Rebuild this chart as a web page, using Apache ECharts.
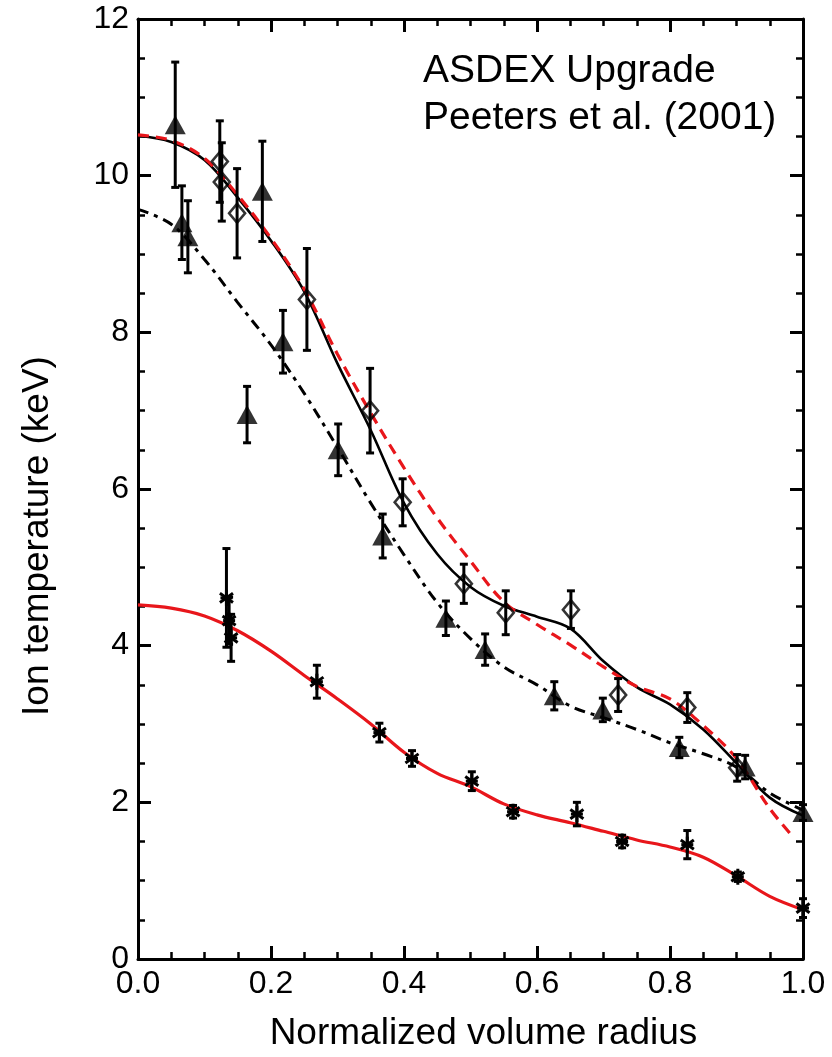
<!DOCTYPE html>
<html>
<head>
<meta charset="utf-8">
<script src="https://cdn.jsdelivr.net/npm/echarts@6/dist/echarts.min.js"></script>
<style>
html,body{margin:0;padding:0;background:#fff;}
#chart{width:832px;height:1057px;}
</style>
</head>
<body>
<div id="chart"></div>
<script>
// ---- Data ----
const xTicks = [0.0, 0.2, 0.4, 0.6, 0.8, 1.0];
const yTicks = [0, 2, 4, 6, 8, 10, 12];

// Fit curves (common radius grid)
const radiusGrid = [0,0.05,0.1,0.15,0.2,0.25,0.3,0.35,0.4,0.45,0.5,0.55,0.6,0.65,0.7,0.75,0.8,0.85,0.9,0.95,1.0];
const fitSolidBlack = [10.51,10.43,10.2,9.72,9.17,8.52,7.6,6.75,5.82,5.17,4.75,4.51,4.37,4.22,3.8,3.47,3.25,2.93,2.5,2.06,1.83];
const fitDashedBlack = [9.57,9.38,8.93,8.38,7.84,7.22,6.53,5.82,5.16,4.55,4.09,3.73,3.5,3.23,3.08,2.93,2.76,2.62,2.45,2.12,1.9];
const fitSolidRed = [4.52,4.48,4.38,4.19,3.93,3.62,3.32,3.0,2.64,2.37,2.2,1.98,1.84,1.74,1.63,1.52,1.43,1.3,1.06,0.8,0.63];
const dashedRedRadius = [0,0.05,0.1,0.15,0.2,0.25,0.3,0.35,0.4,0.45,0.5,0.55,0.6,0.65,0.7,0.75,0.8,0.85,0.9,0.95,0.985];
const fitDashedRed = [10.52,10.45,10.22,9.75,9.2,8.55,7.72,6.97,6.27,5.63,5.08,4.56,4.27,4.01,3.73,3.48,3.32,2.98,2.56,1.92,1.56];

// Measured points: filled triangles
const triX   = [0.056,0.066,0.075,0.164,0.187,0.218,0.301,0.368,0.463,0.522,0.626,0.699,0.814,0.913,1.0];
const triY   = [10.65,9.4,9.22,6.95,9.8,7.88,6.5,5.4,4.35,3.95,3.36,3.18,2.7,2.45,1.87];
const triErr = [0.8,0.47,0.46,0.36,0.64,0.4,0.33,0.28,0.22,0.2,0.18,0.15,0.13,0.15,0.1];

// Measured points: open diamonds
const diaX   = [0.123,0.126,0.149,0.254,0.349,0.398,0.49,0.553,0.651,0.722,0.826,0.901];
const diaY   = [10.18,9.92,9.52,8.42,7.0,5.83,4.79,4.42,4.46,3.37,3.21,2.44];
const diaErr = [0.52,0.5,0.57,0.65,0.54,0.3,0.25,0.28,0.24,0.21,0.19,0.17];

// Measured points: asterisks
const astX   = [0.133,0.137,0.14,0.269,0.363,0.412,0.502,0.564,0.66,0.728,0.826,0.902,1.0];
const astY   = [4.61,4.32,4.1,3.54,2.89,2.56,2.27,1.88,1.85,1.5,1.46,1.05,0.65];
const astErr = [0.63,0.3,0.3,0.21,0.12,0.1,0.12,0.08,0.15,0.08,0.18,0.06,0.12];

const xTitle = 'Normalized volume radius';
const yTitle = 'Ion temperature (keV)';
const noteLines = ['ASDEX Upgrade', 'Peeters et al. (2001)'];

// ---- Build ----
const FONT = '"Liberation Sans", Arial, Helvetica, sans-serif';
const RED = '#e8161b';
const pairs = (xs, ys) => xs.map((x, i) => [x, ys[i]]);
const triples = (xs, ys, es) => xs.map((x, i) => [x, ys[i], es[i]]);

function errorBars(data) {
  return {
    type: 'custom', z: 3, silent: true,
    data: data,
    encode: { x: 0, y: 1 },
    renderItem: function (params, api) {
      const x = api.value(0), y = api.value(1), e = api.value(2);
      const t = api.coord([x, y + e]);
      const b = api.coord([x, y - e]);
      const hw = 4;
      const st = { stroke: '#000', lineWidth: 3 };
      return { type: 'group', children: [
        { type: 'line', shape: { x1: t[0], y1: t[1], x2: b[0], y2: b[1] }, style: st },
        { type: 'line', shape: { x1: t[0] - hw, y1: t[1], x2: t[0] + hw, y2: t[1] }, style: st },
        { type: 'line', shape: { x1: b[0] - hw, y1: b[1], x2: b[0] + hw, y2: b[1] }, style: st }
      ]};
    }
  };
}

function asterisks(data) {
  return {
    type: 'custom', z: 5, silent: true,
    data: data,
    encode: { x: 0, y: 1 },
    renderItem: function (params, api) {
      const c = api.coord([api.value(0), api.value(1)]);
      const r = 8;
      const st = { stroke: '#000', lineWidth: 3 };
      const kids = [];
      [90, 35, 145, 0].forEach(function (a, i) {
        const rad = a * Math.PI / 180;
        const rr = i === 3 ? 6 : r;
        const dx = rr * Math.cos(rad), dy = rr * Math.sin(rad);
        kids.push({ type: 'line', shape: { x1: c[0] - dx, y1: c[1] - dy, x2: c[0] + dx, y2: c[1] + dy }, style: st });
      });
      return { type: 'group', children: kids };
    }
  };
}

const axisCommon = {
  type: 'value',
  axisLine: { show: true, onZero: false, lineStyle: { color: '#000', width: 3 } },
  axisTick: { show: true, inside: true, length: 13, lineStyle: { color: '#000', width: 3 } },
  minorTick: { show: true, splitNumber: 4, length: 7, lineStyle: { color: '#000', width: 2.5 } },
  splitLine: { show: false },
  minorSplitLine: { show: false }
};
const labelStyle = { color: '#000', fontSize: 32, fontFamily: FONT };

const chart = echarts.init(document.getElementById('chart'), null, { renderer: 'canvas' });
chart.setOption({
  animation: false,
  backgroundColor: '#fff',
  grid: { left: 138, right: 29, top: 19, bottom: 91 },
  xAxis: [
    Object.assign({}, axisCommon, {
      position: 'bottom', min: xTicks[0], max: xTicks[xTicks.length - 1], interval: 0.2,
      axisLabel: Object.assign({ margin: 9, formatter: v => v.toFixed(1) }, labelStyle),
      name: xTitle, nameLocation: 'middle', nameGap: 56,
      nameTextStyle: { color: '#000', fontSize: 37, fontFamily: FONT, padding: [0, 0, 0, 26] }
    }),
    Object.assign({}, axisCommon, {
      position: 'top', min: xTicks[0], max: xTicks[xTicks.length - 1], interval: 0.2,
      axisLabel: { show: false }
    })
  ],
  yAxis: [
    Object.assign({}, axisCommon, {
      position: 'left', min: yTicks[0], max: yTicks[yTicks.length - 1], interval: 2,
      axisLabel: Object.assign({ margin: 9 }, labelStyle),
      name: yTitle, nameLocation: 'middle', nameGap: 82, nameRotate: 90,
      nameTextStyle: { color: '#000', fontSize: 37, fontFamily: FONT, padding: [0, 94, 0, 0] }
    }),
    Object.assign({}, axisCommon, {
      position: 'right', min: yTicks[0], max: yTicks[yTicks.length - 1], interval: 2,
      axisLabel: { show: false }
    })
  ],
  graphic: [
    { type: 'text', left: 423, top: 52, z: 10,
      style: { text: noteLines[0], font: '39px ' + FONT, fill: '#000' } },
    { type: 'text', left: 423, top: 99, z: 10,
      style: { text: noteLines[1], font: '39px ' + FONT, fill: '#000' } }
  ],
  series: [
    { type: 'line', z: 2, data: pairs(radiusGrid, fitSolidBlack), showSymbol: false, smooth: 0.35,
      lineStyle: { color: '#000', width: 2.6 } },
    { type: 'line', z: 2, data: pairs(radiusGrid, fitDashedBlack), showSymbol: false, smooth: 0.35,
      lineStyle: { color: '#000', width: 3, type: [11, 6, 4, 6] } },
    { type: 'line', z: 2, data: pairs(dashedRedRadius, fitDashedRed), showSymbol: false, smooth: 0.35,
      lineStyle: { color: RED, width: 3.2, type: [11, 7] } },
    { type: 'line', z: 2, data: pairs(radiusGrid, fitSolidRed), showSymbol: false, smooth: 0.35,
      lineStyle: { color: RED, width: 3.2 } },
    errorBars(triples(triX, triY, triErr)),
    errorBars(triples(diaX, diaY, diaErr)),
    errorBars(triples(astX, astY, astErr)),
    { type: 'scatter', z: 5, data: pairs(triX, triY), symbol: 'triangle', symbolSize: [21, 19],
      itemStyle: { color: '#000' } },
    { type: 'scatter', z: 5, data: pairs(diaX, diaY), symbol: 'diamond', symbolSize: [16, 19],
      itemStyle: { color: 'rgba(255,255,255,0)', borderColor: '#000', borderWidth: 2.6 } },
    asterisks(pairs(astX, astY))
  ]
});
</script>
</body>
</html>
